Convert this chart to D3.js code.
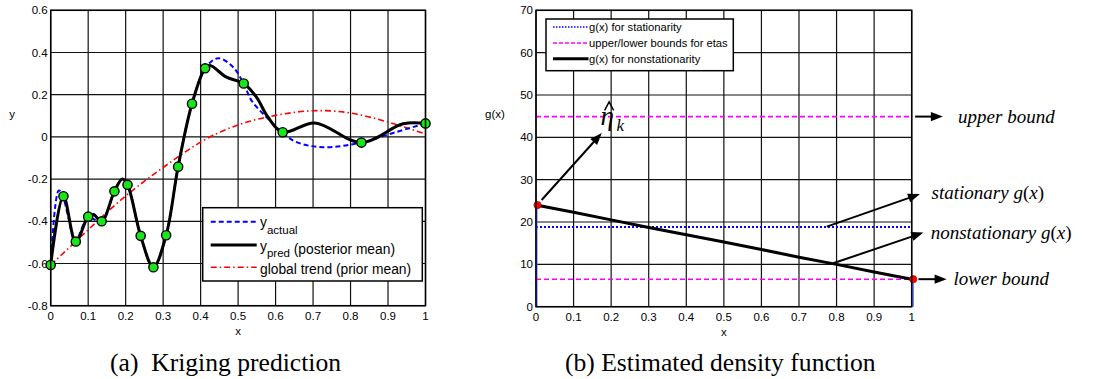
<!DOCTYPE html>
<html>
<head>
<meta charset="utf-8">
<script src="https://cdn.jsdelivr.net/npm/d3@7"></script>
<style>
  body { margin: 0; background: #fff; }
  svg { display: block; }
  text { font-family: "Liberation Sans", Arial, Helvetica, sans-serif; fill: #000; }
  text.serif { font-family: "Liberation Serif", "Times New Roman", Times, serif; }
</style>
</head>
<body>
<svg id="fig" width="1093" height="379"></svg>
<script>
// ---------- shared ticks ----------
const xTicks = [0, 0.1, 0.2, 0.3, 0.4, 0.5, 0.6, 0.7, 0.8, 0.9, 1];
const xTickLabels = ["0", "0.1", "0.2", "0.3", "0.4", "0.5", "0.6", "0.7", "0.8", "0.9", "1"];

// ---------- panel (a): kriging prediction ----------
const yTicksA = [-0.8, -0.6, -0.4, -0.2, 0, 0.2, 0.4, 0.6];
const yTickLabelsA = ["-0.8", "-0.6", "-0.4", "-0.2", "0", "0.2", "0.4", "0.6"];

// sampled observations (green markers)
const obsX = [0, 0.034, 0.067, 0.100, 0.136, 0.170, 0.205, 0.240, 0.274, 0.308, 0.340, 0.377, 0.412, 0.515, 0.619, 0.829, 1.0];
const obsY = [-0.607, -0.281, -0.496, -0.378, -0.400, -0.258, -0.227, -0.469, -0.618, -0.466, -0.141, 0.157, 0.325, 0.253, 0.022, -0.027, 0.064];

// posterior mean
const predX = [0, 0.034, 0.067, 0.100, 0.114, 0.136, 0.170, 0.191, 0.205, 0.240, 0.274, 0.308, 0.340, 0.377, 0.412, 0.425, 0.469, 0.515, 0.549, 0.580, 0.619, 0.705, 0.829, 0.940, 1.0];
const predY = [-0.607, -0.281, -0.496, -0.378, -0.368, -0.400, -0.258, -0.199, -0.227, -0.469, -0.618, -0.466, -0.141, 0.157, 0.325, 0.338, 0.283, 0.253, 0.188, 0.093, 0.022, 0.066, -0.027, 0.062, 0.064];

// true function
const actualX = [0, 0.021, 0.028, 0.047, 0.062, 0.067, 0.100, 0.136, 0.170, 0.191, 0.205, 0.240, 0.274, 0.308, 0.340, 0.377, 0.412, 0.447, 0.487, 0.515, 0.536, 0.576, 0.619, 0.656, 0.727, 0.829, 0.905, 1.0];
const actualY = [-0.607, -0.255, -0.262, -0.381, -0.490, -0.496, -0.385, -0.400, -0.258, -0.199, -0.227, -0.469, -0.618, -0.466, -0.141, 0.157, 0.325, 0.373, 0.330, 0.252, 0.172, 0.093, 0.020, -0.025, -0.049, -0.027, 0.014, 0.064];

// global trend (prior mean)
const trendX = [0, 0.1, 0.2, 0.3, 0.4, 0.5, 0.6, 0.7, 0.8, 0.9, 1.0];
const trendY = [-0.607, -0.44, -0.28, -0.145, -0.025, 0.057, 0.102, 0.124, 0.113, 0.070, 0.014];

// ---------- panel (b): estimated density function ----------
const yTicksB = [0, 10, 20, 30, 40, 50, 60, 70];
const yTickLabelsB = ["0", "10", "20", "30", "40", "50", "60", "70"];
const stationaryG = 18.8;
const upperBound = 44.9;
const lowerBound = 6.5;
const nonstatX = [0, 0.1, 0.2, 0.3, 0.4, 0.5, 0.6, 0.7, 0.8, 0.9, 1.0];
const nonstatY = [24.0, 22.3, 20.5, 18.7, 17.0, 15.3, 13.5, 11.7, 10.0, 8.2, 6.5];
const endX = [0, 1];
const endY = [24.0, 6.5];

// ---------- drawing ----------
const svg = d3.select("#fig");

const xA = d3.scaleLinear().domain([0, 1]).range([50.7, 425.5]);
const yA = d3.scaleLinear().domain([-0.8, 0.6]).range([305.7, 10.3]);
const xB = d3.scaleLinear().domain([0, 1]).range([536, 911.7]);
const yB = d3.scaleLinear().domain([0, 70]).range([306.7, 10.3]);

function frame(g, xs, ys, yTicks, yLabels, yTitle, yTitleX) {
  const [x0, x1] = xs.range();
  const [y0, y1] = ys.range();
  // grid
  g.append("g").selectAll("line").data(xTicks).join("line")
    .attr("x1", d => xs(d)).attr("x2", d => xs(d))
    .attr("y1", y1).attr("y2", y0)
    .attr("stroke", "#111").attr("stroke-width", 1.2);
  g.append("g").selectAll("line").data(yTicks).join("line")
    .attr("x1", x0).attr("x2", x1)
    .attr("y1", d => ys(d)).attr("y2", d => ys(d))
    .attr("stroke", "#111").attr("stroke-width", 1.2);
  // tick labels
  g.append("g").selectAll("text").data(xTicks).join("text")
    .attr("x", d => xs(d)).attr("y", y0 + 14)
    .attr("text-anchor", "middle").attr("font-size", 11.5)
    .text((d, i) => xTickLabels[i]);
  g.append("g").selectAll("text").data(yTicks).join("text")
    .attr("x", x0 - 3).attr("y", d => ys(d) + 4)
    .attr("text-anchor", "end").attr("font-size", 11.5)
    .text((d, i) => yLabels[i]);
  // axis titles
  g.append("text").attr("x", (x0 + x1) / 2).attr("y", y0 + 29)
    .attr("text-anchor", "middle").attr("font-size", 11.5).text("x");
  g.append("text").attr("x", yTitleX).attr("y", 118)
    .attr("text-anchor", "middle").attr("font-size", 11.5).text(yTitle);
}

function frameBox(g, xs, ys) {
  const [x0, x1] = xs.range();
  const [y0, y1] = ys.range();
  g.append("rect").attr("x", x0).attr("y", y1).attr("width", x1 - x0).attr("height", y0 - y1)
    .attr("fill", "none").attr("stroke", "#000").attr("stroke-width", 1.5);
}

// ---- panel (a) ----
const gA = svg.append("g");
frame(gA, xA, yA, yTicksA, yTickLabelsA, "y", 12);

const lineA = d3.line().x(d => xA(d[0])).y(d => yA(d[1]));
const zip = (xs, ys) => xs.map((x, i) => [x, ys[i]]);

gA.append("path").datum(zip(trendX, trendY))
  .attr("d", lineA.curve(d3.curveNatural))
  .attr("fill", "none").attr("stroke", "#ff0000").attr("stroke-width", 1.6)
  .attr("stroke-dasharray", "6,3,1.5,3");

gA.append("path").datum(zip(actualX, actualY))
  .attr("d", lineA.curve(d3.curveCatmullRom.alpha(0.5)))
  .attr("fill", "none").attr("stroke", "#0000ff").attr("stroke-width", 2)
  .attr("stroke-dasharray", "5,3");

gA.append("path").datum(zip(predX, predY))
  .attr("d", lineA.curve(d3.curveCatmullRom.alpha(0.5)))
  .attr("fill", "none").attr("stroke", "#000").attr("stroke-width", 3)
  .attr("stroke-linejoin", "round");

gA.append("g").selectAll("circle").data(zip(obsX, obsY)).join("circle")
  .attr("cx", d => xA(d[0])).attr("cy", d => yA(d[1])).attr("r", 4.6)
  .attr("fill", "#19e619").attr("stroke", "#000").attr("stroke-width", 1.4);

frameBox(gA, xA, yA);

// legend (a)
const legA = gA.append("g");
legA.append("rect").attr("x", 202.7).attr("y", 207.7).attr("width", 219.6).attr("height", 73.3)
  .attr("fill", "#fff").attr("stroke", "#000").attr("stroke-width", 1.5);
const legAItems = [
  { y: 221.7, color: "#0000ff", w: 2, dash: "5,3" },
  { y: 245, color: "#000", w: 3, dash: null },
  { y: 267.3, color: "#ff0000", w: 1.6, dash: "6,3,1.5,3" }
];
legA.selectAll("line").data(legAItems).join("line")
  .attr("x1", 210.7).attr("x2", 256.7).attr("y1", d => d.y).attr("y2", d => d.y)
  .attr("stroke", d => d.color).attr("stroke-width", d => d.w)
  .attr("stroke-dasharray", d => d.dash);
let t = legA.append("text").attr("x", 260).attr("y", 226.5).attr("font-size", 13.8);
t.append("tspan").text("y");
t.append("tspan").attr("dy", 7).attr("font-size", 11.5).text("actual");
t = legA.append("text").attr("x", 260).attr("y", 250.5).attr("font-size", 13.8);
t.append("tspan").text("y");
t.append("tspan").attr("dy", 6).attr("font-size", 11.5).text("pred");
t.append("tspan").attr("dy", -3).text(" (posterior mean)");
legA.append("text").attr("x", 260).attr("y", 274).attr("font-size", 13.8).text("global trend (prior mean)");

// ---- panel (b) ----
const gB = svg.append("g");
frame(gB, xB, yB, yTicksB, yTickLabelsB, "g(x)", 495);

const lineB = d3.line().x(d => xB(d[0])).y(d => yB(d[1]));

gB.append("path").datum([[0, stationaryG], [1, stationaryG]])
  .attr("d", lineB).attr("fill", "none").attr("stroke", "#0000ff")
  .attr("stroke-width", 2).attr("stroke-dasharray", "2,2");

gB.append("g").selectAll("line").data(zip(endX, endY)).join("line")
  .attr("x1", d => xB(d[0]) + (d[0] === 0 ? 0.7 : 1.3)).attr("x2", d => xB(d[0]) + (d[0] === 0 ? 0.7 : 1.3))
  .attr("y1", d => yB(d[1])).attr("y2", yB(0))
  .attr("stroke", "#5868ff").attr("stroke-width", 1.6);

gB.append("g").selectAll("path").data([upperBound, lowerBound]).join("path")
  .attr("d", d => lineB([[0, d], [1, d]]))
  .attr("fill", "none").attr("stroke", "#ff00ff").attr("stroke-width", 1.6)
  .attr("stroke-dasharray", "5,3");

gB.append("path").datum(zip(nonstatX, nonstatY))
  .attr("d", lineB).attr("fill", "none").attr("stroke", "#000").attr("stroke-width", 3);

gB.append("g").selectAll("circle").data(zip(endX, endY)).join("circle")
  .attr("cx", d => xB(d[0]) + 1.5).attr("cy", d => yB(d[1])).attr("r", 3.6)
  .attr("fill", "#ff0000").attr("stroke", "#b00000").attr("stroke-width", 0.8);

frameBox(gB, xB, yB);

// legend (b)
const legB = gB.append("g");
legB.append("rect").attr("x", 546).attr("y", 19).attr("width", 187.3).attr("height", 51.7)
  .attr("fill", "#fff").attr("stroke", "#000").attr("stroke-width", 1.5);
const legBItems = [
  { y: 27, color: "#0000ff", w: 1.6, dash: "1.5,1.5", label: "g(x) for stationarity" },
  { y: 43, color: "#ff00ff", w: 1.6, dash: "4,2", label: "upper/lower bounds for etas" },
  { y: 58.7, color: "#000", w: 3, dash: null, label: "g(x) for nonstationarity" }
];
legB.selectAll("line").data(legBItems).join("line")
  .attr("x1", 553).attr("x2", 588.5).attr("y1", d => d.y).attr("y2", d => d.y)
  .attr("stroke", d => d.color).attr("stroke-width", d => d.w)
  .attr("stroke-dasharray", d => d.dash);
legB.selectAll("text").data(legBItems).join("text")
  .attr("x", 589).attr("y", d => d.y + 4).attr("font-size", 11.2).text(d => d.label);

// annotation arrows (data coordinates of panel b)
const arrows = [
  { from: [0.015, 25.2], to: [0.175, 41.0] },
  { from: [1.009, upperBound], to: [1.083, upperBound] },
  { from: [0.774, 18.9], to: [1.022, 26.6] },
  { from: [0.791, 10.25], to: [1.031, 17.5] },
  { from: [1.018, lowerBound], to: [1.093, lowerBound] }
];
const annG = gB.append("g");
arrows.forEach(a => {
  const x1 = xB(a.from[0]), y1 = yB(a.from[1]);
  const x2 = xB(a.to[0]), y2 = yB(a.to[1]);
  const ang = Math.atan2(y2 - y1, x2 - x1);
  const L = 12, W = 4.6;
  const bx = x2 - L * Math.cos(ang), by = y2 - L * Math.sin(ang);
  annG.append("line").attr("x1", x1).attr("y1", y1).attr("x2", bx + 2 * Math.cos(ang)).attr("y2", by + 2 * Math.sin(ang))
    .attr("stroke", "#000").attr("stroke-width", 2);
  const px = -Math.sin(ang), py = Math.cos(ang);
  annG.append("path")
    .attr("d", `M${x2},${y2}L${bx + W * px},${by + W * py}L${bx - W * px},${by - W * py}Z`)
    .attr("fill", "#000");
});

// annotation labels
function mathLabel(xv, yv, parts) {
  const tx = annG.append("text").attr("class", "serif")
    .attr("x", xB(xv)).attr("y", yB(yv) + 6).attr("font-size", 19);
  parts.forEach(p => tx.append("tspan").attr("font-style", p[1] ? "italic" : "normal").text(p[0]));
}
mathLabel(1.1235, upperBound, [["upper bound", true]]);
mathLabel(1.111, lowerBound, [["lower bound", true]]);
mathLabel(1.053, 26.9, [["stationary ", true], ["g", true], ["(", false], ["x", true], [")", false]]);
mathLabel(1.0506, 17.5, [["nonstationary ", true], ["g", true], ["(", false], ["x", true], [")", false]]);

// eta-hat_k label
const etaX = xB(0.172), etaY = yB(42.8);
annG.append("text").attr("class", "serif").attr("x", etaX).attr("y", etaY)
  .attr("font-size", 27).attr("font-style", "italic").text("η");
annG.append("text").attr("class", "serif").attr("x", etaX + 16).attr("y", etaY + 5.5)
  .attr("font-size", 17).attr("font-style", "italic").text("k");
annG.append("path")
  .attr("d", `M${etaX + 4},${etaY - 15}L${etaX + 8.5},${etaY - 23.5}L${etaX + 13},${etaY - 15}`)
  .attr("fill", "none").attr("stroke", "#000").attr("stroke-width", 1.5);

// captions
svg.append("text").attr("class", "serif").attr("x", 110).attr("y", 371)
  .attr("font-size", 25.6).style("white-space", "pre").text("(a)  Kriging prediction");
svg.append("text").attr("class", "serif").attr("x", 565).attr("y", 371)
  .attr("font-size", 25.6).text("(b) Estimated density function");
</script>
</body>
</html>
